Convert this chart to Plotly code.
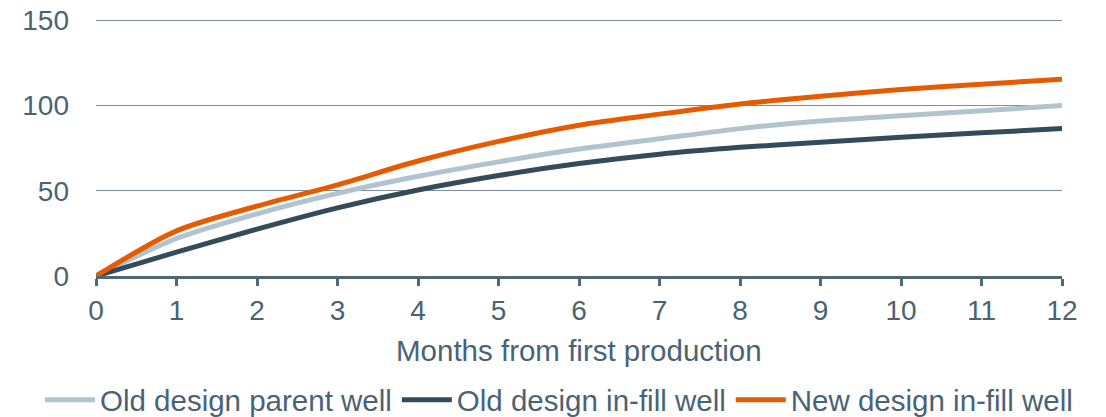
import plotly.graph_objects as go

months = [0, 1, 2, 3, 4, 5, 6, 7, 8, 9, 10, 11, 12]
old_parent = [0, 22, 36.5, 48.5, 58.5, 67, 74.5, 80.5, 86.5, 91, 94, 97, 100]
old_infill = [0, 14, 27.5, 40, 50.5, 59, 66, 71.5, 75.5, 78.5, 81.5, 84, 86.5]
new_infill = [0, 26.5, 41, 53.5, 67.5, 79, 88.5, 95, 101, 105.5, 109.5, 112.5, 115.5]

txt = '#4a6374'
font = 'Liberation Sans, Arial, sans-serif'

fig = go.Figure()
fig.add_trace(go.Scatter(x=months, y=old_parent, mode='lines', name='Old design parent well',
                         line=dict(color='#b1c3ce', width=5, shape='spline', smoothing=0.8)))
fig.add_trace(go.Scatter(x=months, y=old_infill, mode='lines', name='Old design in-fill well',
                         line=dict(color='#344b5a', width=5, shape='spline', smoothing=0.8)))
fig.add_trace(go.Scatter(x=months, y=new_infill, mode='lines', name='New design in-fill well',
                         line=dict(color='#e65a00', width=5, shape='spline', smoothing=0.8)))

# page body has an 8px margin, so the figure is a bit smaller and shifted
fig.update_layout(
    width=1098, height=409,
    margin=dict(l=88, r=44, t=9, b=141, autoexpand=False),
    paper_bgcolor='white', plot_bgcolor='white',
    font=dict(family=font, size=29, color=txt),
    showlegend=True,
    legend=dict(orientation='h', xref='paper', yref='paper',
                x=-0.058, xanchor='left', y=-0.479, yanchor='middle',
                font=dict(size=29.5, color=txt), itemwidth=50, tracegroupgap=0),
    annotations=[dict(text='Months from first production', xref='paper', yref='paper',
                      x=0.5, y=-0.286, xanchor='center', yanchor='middle', showarrow=False,
                      font=dict(size=29.5, color=txt))],
)
fig.update_xaxes(range=[0, 12], tickvals=months, showgrid=False, zeroline=False, automargin=False,
                 showline=True, linecolor='#4f6878', linewidth=3,
                 ticks='outside', ticklen=7, tickwidth=3, tickcolor='#4f6878',
                 ticklabeloverflow='allow', tickfont=dict(size=28, color=txt))
fig.update_yaxes(range=[0, 152], tickvals=[0, 50, 100, 150], showgrid=True, gridcolor='#7b8e9b', gridwidth=1,
                 zeroline=False, showline=False, ticks='', ticklabelstandoff=26, automargin=False,
                 ticklabeloverflow='allow', tickfont=dict(size=28, color=txt))

fig.write_html('out.html')
